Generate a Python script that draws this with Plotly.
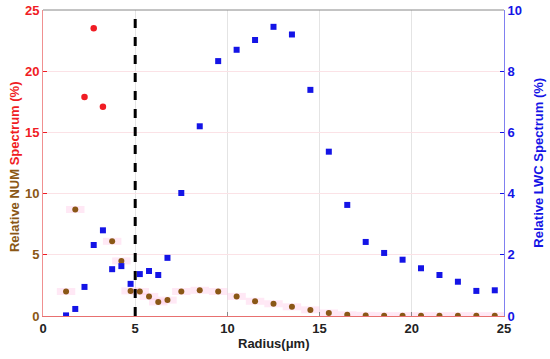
import plotly.graph_objects as go

# Brown NUM points (left axis)
num_r = [1.25, 1.75, 3.75, 4.25, 4.75, 5.25, 5.75, 6.25, 6.75, 7.5, 8.5, 9.5, 10.5, 11.5,
         12.5, 13.5, 14.5, 15.5, 16.5, 17.5, 18.5, 19.5, 20.5, 21.5, 22.5, 23.5, 24.5]
num_v = [2.0, 8.7, 6.1, 4.5, 2.05, 2.0, 1.6, 1.15, 1.3, 2.0, 2.1, 2.0, 1.6, 1.2,
         1.0, 0.75, 0.5, 0.25, 0.1, 0.05, 0.03, 0.03, 0.03, 0.03, 0.03, 0.03, 0.03]
# Red NUM points (left axis)
red_r = [2.25, 2.75, 3.25]
red_v = [17.9, 23.5, 17.1]
# Blue LWC squares (right axis)
lwc_r = [1.25, 1.75, 2.25, 2.75, 3.25, 3.75, 4.25, 4.75, 5.25, 5.75, 6.25, 6.75, 7.5,
         8.5, 9.5, 10.5, 11.5, 12.5, 13.5, 14.5, 15.5, 16.5, 17.5, 18.5, 19.5, 20.5,
         21.5, 22.5, 23.5, 24.5]
lwc_v = [0.02, 0.23, 0.95, 2.32, 2.8, 1.53, 1.63, 1.05, 1.37, 1.47, 1.34, 1.9, 4.02,
         6.2, 8.33, 8.7, 9.02, 9.45, 9.2, 7.39, 5.37, 3.63, 2.42, 2.06, 1.84, 1.56,
         1.34, 1.12, 0.82, 0.84]

x_ticks = [0, 5, 10, 15, 20, 25]
left_ticks = [0, 5, 10, 15, 20, 25]
right_ticks = [0, 2, 4, 6, 8, 10]

RED = "#f01c24"
BROWN = "#8a5716"
BLUE = "#1414e6"
FONT = "Liberation Sans"

left_text = []
for t in left_ticks:
    c = RED if t >= 15 else BROWN
    left_text.append(f"<span style='color:{c}'>{t}</span>")

# faint pink horizontal bands around brown points
band_x, band_y = [], []
for r, v in zip(num_r, num_v):
    band_x += [r - 0.5, r + 0.5, None]
    band_y += [v, v, None]

fig = go.Figure()
fig.add_trace(go.Scatter(x=band_x, y=band_y, mode="lines",
                         line=dict(color="rgba(255,190,225,0.35)", width=7),
                         hoverinfo="skip", showlegend=False))
fig.add_trace(go.Scatter(x=num_r, y=num_v, mode="markers",
                         marker=dict(color=BROWN, size=6, symbol="circle"), showlegend=False))
fig.add_trace(go.Scatter(x=red_r, y=red_v, mode="markers",
                         marker=dict(color=RED, size=6.5, symbol="circle"), showlegend=False))
fig.add_trace(go.Scatter(x=lwc_r, y=lwc_v, mode="markers", yaxis="y2",
                         marker=dict(color=BLUE, size=6, symbol="square"), showlegend=False))

bold = dict(family=FONT, size=13, weight="bold")

fig.update_layout(
    width=550, height=359,
    margin=dict(l=43, r=46, t=10, b=43),
    paper_bgcolor="white", plot_bgcolor="white",
    font=dict(family=FONT, size=13),
    xaxis=dict(range=[0, 25], tickvals=x_ticks, automargin=False,
               showgrid=True, gridcolor="#e4e4e4", zeroline=False,
               showline=True, linecolor="#e87070", linewidth=1,
               ticks="inside", ticklen=4, tickcolor="#888",
               tickfont=dict(bold, color="#222")),
    yaxis=dict(range=[0, 25], tickvals=left_ticks, ticktext=left_text, automargin=False,
               showgrid=True, gridcolor="#fbe2e6", zeroline=False,
               showline=True, linecolor="#f09090", linewidth=1,
               ticks="inside", ticklen=4, tickcolor=RED,
               tickfont=dict(bold)),
    yaxis2=dict(range=[0, 10], tickvals=right_ticks, automargin=False,
                overlaying="y", side="right", showgrid=False, zeroline=False,
                showline=True, linecolor="#8080f0", linewidth=1,
                ticks="inside", ticklen=4, tickcolor=BLUE,
                tickfont=dict(bold, color=BLUE)),
    shapes=[
        dict(type="line", xref="paper", yref="paper", x0=0, x1=1, y0=1, y1=1,
             line=dict(color="#888888", width=1)),
        dict(type="line", xref="x", yref="paper", x0=5, x1=5, y0=0, y1=1,
             line=dict(color="black", width=3, dash="dash")),
    ],
    annotations=[
        dict(text="Radius(μm)", xref="paper", yref="paper", x=0.5, y=-0.09,
             xanchor="center", yanchor="middle", showarrow=False,
             font=dict(bold, color="#222")),
        dict(text=f"<span style='color:{BROWN}'>Relative NUM </span><span style='color:{RED}'>Spectrum (%)</span>",
             xref="paper", yref="paper", x=-0.063, y=0.49, textangle=-90,
             xanchor="center", yanchor="middle", showarrow=False,
             font=dict(bold)),
        dict(text="Relative LWC Spectrum (%)", xref="paper", yref="paper", x=1.073, y=0.5,
             textangle=-90, xanchor="center", yanchor="middle", showarrow=False,
             font=dict(bold, color=BLUE)),
    ],
)

fig.write_html("out.html", config={"displayModeBar": False},
               post_script="document.body.style.margin='0';document.body.style.overflow='hidden';")
